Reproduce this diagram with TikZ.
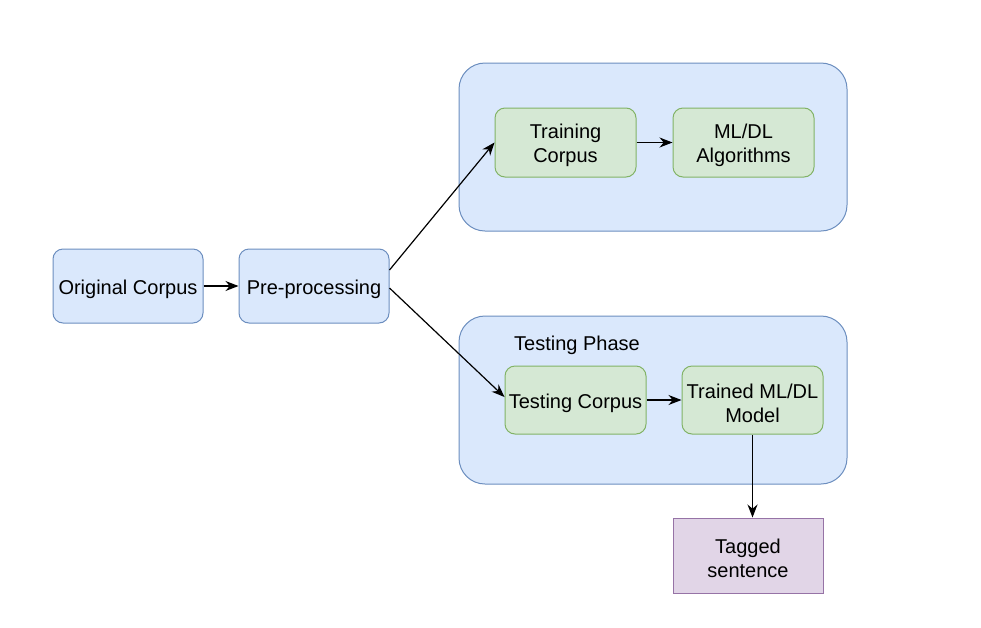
\documentclass[tikz,border=0pt]{standalone}
\usepackage{fontspec}
\setmainfont{Liberation Sans}
\usetikzlibrary{arrows.meta}
\definecolor{bfill}{HTML}{DAE8FC}
\definecolor{bline}{HTML}{6C8EBF}
\definecolor{gfill}{HTML}{D5E8D4}
\definecolor{gline}{HTML}{82B366}
\definecolor{pfill}{HTML}{E1D5E7}
\definecolor{pline}{HTML}{9673A6}
\begin{document}
\begin{tikzpicture}[x=1pt,y=-1pt,
  txt/.style={font=\fontsize{20}{24}\selectfont, align=center, text=black},
  lbl/.style={label={[txt,yshift=-3pt]center:{#1}}},
  bluebox/.style={draw=bline, fill=bfill, rounded corners=10pt, line width=1pt, inner sep=0pt},
  greenbox/.style={draw=gline, fill=gfill, rounded corners=10pt, line width=1pt, inner sep=0pt},
  purplebox/.style={draw=pline, fill=pfill, line width=1pt, inner sep=0pt},
  container/.style={draw=bline, fill=bfill, rounded corners=26pt, line width=1pt, inner sep=0pt},
  arr/.style={-{Stealth[length=13pt,width=10pt]}, line width=1.2pt, black}]
\useasboundingbox (0,0) rectangle (981,627);
% containers
\node[container, minimum width=388pt, minimum height=168pt] (top) at (653,147) {};
\node[container, minimum width=388pt, minimum height=168pt] (bot) at (653,400) {};
\node[txt, anchor=center] (phase) at (577,345) {Testing Phase};
% boxes
\node[bluebox, minimum width=150pt, minimum height=74pt, lbl={Original Corpus}] (orig) at (128,286) {};
\node[bluebox, minimum width=150pt, minimum height=74pt, lbl={Pre-processing}] (pre) at (314,286) {};
\node[greenbox, minimum width=141pt, minimum height=69pt, lbl={Training\\Corpus}] (train) at (565.5,142.5) {};
\node[greenbox, minimum width=141pt, minimum height=69pt, lbl={ML/DL\\Algorithms}] (alg) at (743.5,142.5) {};
\node[greenbox, minimum width=141pt, minimum height=68pt, lbl={Testing Corpus}] (test) at (575.5,400) {};
\node[greenbox, minimum width=141pt, minimum height=68pt, lbl={Trained ML/DL\\Model}] (model) at (752.5,400) {};
\node[purplebox, minimum width=150pt, minimum height=75pt, lbl={Tagged\\sentence}] (tag) at (748,555.5) {};
% connectors
\draw[arr] (orig.east) -- (pre.west);
\draw[arr] (pre.east) ++(0,-16) coordinate (p1) -- (train.west);
\draw[arr] (pre.east) ++(0,2) coordinate (p2) -- ([yshift=3pt]test.west);
\draw[arr] (train.east) -- (alg.west);
\draw[arr] (test.east) -- (model.west);
\draw[arr] (model.south) -- (model.south |- tag.north);
\end{tikzpicture}
\end{document}
